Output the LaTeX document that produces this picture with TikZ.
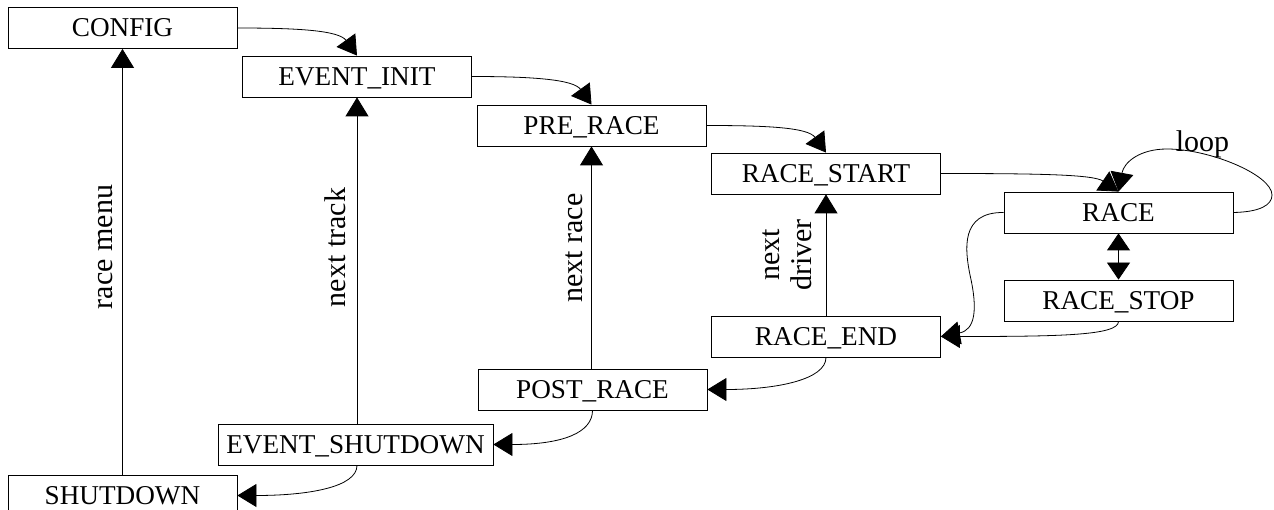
\documentclass[tikz,border=0pt]{standalone}
\usepackage{fontspec}
\setmainfont{Liberation Serif}
\usetikzlibrary{arrows.meta,calc}

\tikzset{
  state/.style={draw=black, line width=0.8pt, rectangle, minimum width=229pt,
    minimum height=41pt, inner sep=0pt, text height=18pt, text depth=0pt,
    font=\fontsize{27.2}{33}\selectfont},
  edge/.style={draw=black, line width=0.8pt, -{Triangle[length=19pt,width=23pt]}},
  biedge/.style={draw=black, line width=0.8pt,
    {Triangle[length=17pt,width=23pt]}-{Triangle[length=17pt,width=23pt]}},
  elabel/.style={inner sep=0pt, font=\fontsize{30}{32}\selectfont},
}

\begin{document}
\begin{tikzpicture}[x=1pt,y=-1pt]
\useasboundingbox (0,0) rectangle (1274,510);

% states
\node[state] (CONFIG)     at (122.5,28)   {CONFIG};
\node[state] (EVENTINIT)  at (357,76.5)   {EVENT\_INIT};
\node[state] (PRERACE)    at (591.5,125.5){PRE\_RACE};
\node[state] (RACESTART)  at (826,173.5)  {RACE\_START};
\node[state] (RACE)       at (1118.5,212.5){RACE};
\node[state] (RACESTOP)   at (1118.5,300.5){RACE\_STOP};
\node[state] (RACEEND)    at (826,336.5)  {RACE\_END};
\node[state] (POSTRACE)   at (592.5,389.5){POST\_RACE};
\node[state, minimum width=275pt] (EVENTSHUT) at (355.5,444.5) {EVENT\_SHUTDOWN};
\node[state] (SHUTDOWN)   at (122.5,495.5){SHUTDOWN};

% forward chain
\draw[edge] (CONFIG.east) .. controls +(62,0) and +(-18,-25) .. (EVENTINIT.north);
\draw[edge] (EVENTINIT.east) .. controls +(62,0) and +(-18,-25) .. (PRERACE.north);
\draw[edge] (PRERACE.east) .. controls +(62,0) and +(-18,-25) .. (RACESTART.north);
\draw[edge] (RACESTART.east) .. controls +(100,0) and +(-25,-17) .. (RACE.north);

% race loop
\draw[edge] (RACE.east) .. controls (1260,212) and (1272,205) .. (1272,195)
  .. controls (1272,175) and (1210,149) .. (1167,149)
  .. controls (1140,149) and (1124,162) .. (RACE.north);
\node[elabel, anchor=base] (looplbl) at (1202.5,152) {loop};

% race <-> race stop
\draw[biedge] (RACE.south) -- (RACESTOP.north);

% into race end
\draw[edge] (RACE.west) .. controls (960,212) and (965,250) .. (970,275)
  .. controls (978,310) and (975,330) .. (RACEEND.east);
\draw[edge] (RACESTOP.south) .. controls +(0,14) and +(120,0) .. (RACEEND.east);

% backward chain
\draw[edge] (RACEEND.north) -- (RACESTART.south);
\node[elabel, rotate=90, align=center] (lbldriver) at (787,255) {next\\driver};

\draw[edge] (RACEEND.south) .. controls +(0,22) and +(70,0) .. (POSTRACE.east);
\draw[edge] (POSTRACE.north -| PRERACE.south) -- (PRERACE.south);
\node[elabel, rotate=90, anchor=base] (lblrace) at (582,248) {next race};

\draw[edge] (POSTRACE.south) .. controls +(0,22) and +(70,0) .. (EVENTSHUT.east);
\draw[edge] (EVENTSHUT.north -| EVENTINIT.south) -- (EVENTINIT.south);
\node[elabel, rotate=90, anchor=base] (lbltrack) at (345,247.5) {next track};

\draw[edge] (EVENTSHUT.south -| EVENTINIT.south) .. controls +(0,22) and +(70,0) .. (SHUTDOWN.east);
\draw[edge] (SHUTDOWN.north) -- (CONFIG.south);
\node[elabel, rotate=90, anchor=base] (lblmenu) at (112,247) {race menu};
\end{tikzpicture}
\end{document}
